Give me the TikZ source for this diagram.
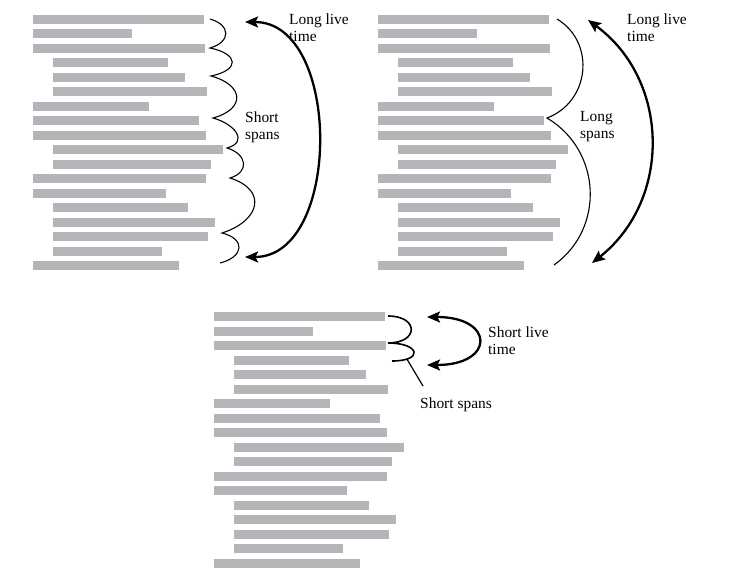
\documentclass[tikz,border=0pt]{standalone}
\usepackage{fontspec}
\setmainfont{Liberation Serif}
\usetikzlibrary{arrows.meta}
\definecolor{codegray}{RGB}{180,181,185}
\def\codelines{0/0/171, 1/0/99, 2/0/172, 3/20/135, 4/20/152, 5/20/174, 6/0/116, 7/0/166, 8/0/173, 9/20/190, 10/20/178, 11/0/173, 12/0/133, 13/20/155, 14/20/182, 15/20/175, 16/20/129, 17/0/146}
\tikzset{
  codeline/.style={fill=codegray},
  spanline/.style={line width=1.1pt},
  livearrow/.style={line width=2.3pt, {Stealth[length=13bp,width=11bp,inset=2.5bp]}-{Stealth[length=13bp,width=11bp,inset=2.5bp]}},
  lbl/.style={anchor=north west, inner sep=0pt, align=left, font=\fontsize{15.5}{17}\selectfont}
}
\begin{document}
\begin{tikzpicture}[x=1bp,y=-1bp]
\useasboundingbox (0,0) rectangle (755,572);
\foreach \dx/\dy in {33/19.3, 378/19.3, 214/316.5}{
  \begin{scope}[shift={(\dx,\dy)}]
  \foreach \r/\ind/\len in \codelines
    \fill[codeline] (\ind,\r*14.5-4.5) rectangle (\len,\r*14.5+4.5);
  \end{scope}
}
% short spans, long live time
\draw[spanline] (210,19) .. controls +(21,6) and +(21,-6) .. (210,48)
  .. controls +(29,6) and +(29,-6) .. (211,76)
  .. controls +(33,9) and +(33,-9) .. (213,118)
  .. controls +(22,6) and +(22,-6) .. (227,148)
  .. controls +(20,6) and +(20,-6) .. (230,178)
  .. controls +(38,12) and +(38,-12) .. (222,233)
  .. controls +(24,6) and +(24,-6) .. (220,263);
\coordinate (live1top) at (245,22);
\coordinate (live1bot) at (245,257);
\draw[livearrow] (live1top) .. controls +(97,0) and +(97,0) .. (live1bot);
\node[lbl] (live1lbl) at (289,13.5) {Long live\\time};
\node[lbl] (span1lbl) at (245,111.5) {Short\\spans};
% long spans, long live time
\draw[spanline] (557,19) .. controls +(39,23.5) and +(42.8,-16.1) .. (547,118)
  .. controls +(54.3,32.2) and +(51.4,-36.7) .. (554,265);
\coordinate (live2top) at (588,20);
\coordinate (live2bot) at (592,263);
\draw[livearrow] (live2top) .. controls +(82,60) and +(80,-63) .. (live2bot);
\node[lbl] (live2lbl) at (627,13.5) {Long live\\time};
\node[lbl] (span2lbl) at (580,111.5) {Long\\spans};
% short spans, short live time
\draw[line width=1.6pt] (388,316) .. controls +(31,0) and +(31,0) .. (388,343)
  .. controls +(32,0) and +(32,0) .. (392,361) node[pos=0.8, coordinate] (span3pt) {};
\coordinate (span3end) at (423,386);
\draw[line width=1.2pt] (span3pt) -- (span3end);
\coordinate (live3top) at (427,317);
\coordinate (live3bot) at (427,365);
\draw[livearrow] (live3top) .. controls +(68,0) and +(68,0) .. (live3bot);
\node[lbl] (live3lbl) at (488,327) {Short live\\time};
\node[lbl] (span3lbl) at (420,397.5) {Short spans};
\end{tikzpicture}
\end{document}
